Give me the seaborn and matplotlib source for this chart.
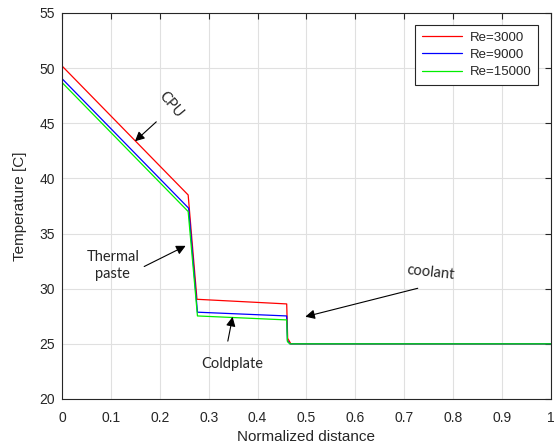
import numpy as np
import pandas as pd
import matplotlib
matplotlib.use("Agg")
import matplotlib.pyplot as plt
import seaborn as sns

# Data
x_re3000 = [0.0, 0.258, 0.276, 0.4595, 0.4615, 0.468, 1.0]
t_re3000 = [50.2, 38.5, 29.04, 28.62, 25.5, 25.0, 25.0]
x_re9000 = [0.0, 0.259, 0.277, 0.4595, 0.461, 0.466, 1.0]
t_re9000 = [49.05, 37.3, 27.87, 27.53, 25.3, 25.0, 25.0]
x_re15000 = [0.0, 0.258, 0.277, 0.4595, 0.461, 0.466, 1.0]
t_re15000 = [48.7, 37.0, 27.53, 27.17, 25.2, 25.0, 25.0]
series_labels = ["Re=3000", "Re=9000", "Re=15000"]
series_colors = ["#ff0000", "#0000ff", "#00ee00"]

xticks = [0, 0.1, 0.2, 0.3, 0.4, 0.5, 0.6, 0.7, 0.8, 0.9, 1]
xticklabels = ["0", "0.1", "0.2", "0.3", "0.4", "0.5", "0.6", "0.7", "0.8", "0.9", "1"]
yticks = [20, 25, 30, 35, 40, 45, 50, 55]

frames = []
for lab, xs, ts in zip(series_labels, [x_re3000, x_re9000, x_re15000],
                       [t_re3000, t_re9000, t_re15000]):
    frames.append(pd.DataFrame({"x": xs, "T": ts, "series": lab, "order": range(len(xs))}))
df = pd.concat(frames, ignore_index=True)

sns.set_style("whitegrid")
plt.rcParams['font.family'] = ['Liberation Sans', 'DejaVu Sans']

fig = plt.figure(figsize=(5.55, 4.45), dpi=100)
ax = fig.add_axes([0.1117, 0.1034, 0.8811, 0.8674])

sns.lineplot(data=df, x="x", y="T", hue="series", hue_order=series_labels,
             palette=series_colors, estimator=None, sort=False, units="series",
             linewidth=0.9, ax=ax)

ax.set_xlim(0, 1)
ax.set_ylim(20, 55)
ax.set_xticks(xticks)
ax.set_xticklabels(xticklabels)
ax.set_yticks(yticks)
ax.set_xlabel("Normalized distance", fontsize=11, color="#262626", labelpad=3.5)
ax.set_ylabel("Temperature [C]", fontsize=11, color="#262626", labelpad=9)
ax.tick_params(axis="both", direction="in", length=4, width=0.8, labelsize=10,
               colors="#262626", top=True, right=True)
ax.tick_params(axis="x", pad=9)
ax.tick_params(axis="y", pad=5)
ax.grid(True, color="#e0e0e0", linewidth=0.8)
for sp in ax.spines.values():
    sp.set_color("#262626")
    sp.set_linewidth(0.8)

leg = ax.legend(loc="upper right", fontsize=9.5, frameon=True, fancybox=False,
                edgecolor="#262626", framealpha=1, borderpad=0.5, labelspacing=0.38,
                handlelength=3.0, handletextpad=0.6, borderaxespad=0,
                bbox_to_anchor=(0.973, 0.969))
leg.get_frame().set_linewidth(0.8)
for h in leg.get_lines():
    h.set_linewidth(0.9)

afont = ['Lato', 'DejaVu Sans']
arrowprops = dict(arrowstyle="-|>", color="black", lw=0.8, mutation_scale=14)

ax.annotate("", xy=(0.145, 43.2), xytext=(0.197, 45.3), arrowprops=arrowprops)
ax.text(0.222, 46.7, "CPU", rotation=-50, ha="center", va="center", fontsize=10.5, family=afont)

ax.annotate("", xy=(0.258, 34.0), xytext=(0.163, 31.9), arrowprops=arrowprops)
ax.text(0.104, 32.1, "Thermal\npaste", ha="center", va="center", fontsize=10.5,
        family=afont, linespacing=1.3)

ax.annotate("", xy=(0.492, 27.4), xytext=(0.733, 30.1), arrowprops=arrowprops)
ax.text(0.753, 31.5, "coolant", rotation=-6, ha="center", va="center", fontsize=10.5, family=afont)

ax.annotate("", xy=(0.350, 27.7), xytext=(0.338, 25.0), arrowprops=arrowprops)
ax.text(0.348, 23.2, "Coldplate", ha="center", va="center", fontsize=10.5, family=afont)

fig.savefig("out.png", dpi=100)
